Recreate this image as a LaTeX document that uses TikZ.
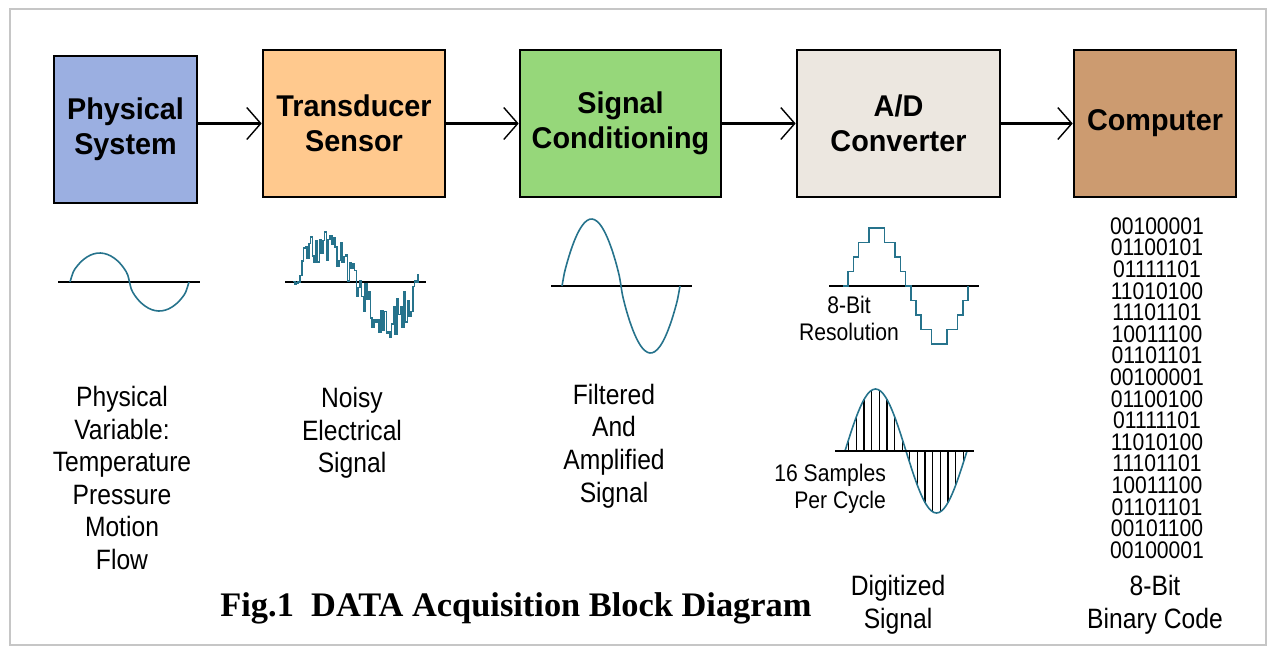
\documentclass[tikz,border=0pt]{standalone}
\usepackage{fontspec}
\setmainfont{Liberation Serif}
\newfontfamily\boxfont[FakeStretch=0.96]{Liberation Sans}
\newfontfamily\labfont[FakeStretch=0.88]{Liberation Sans}
\usetikzlibrary{arrows.meta, positioning}

\definecolor{physblue}{RGB}{155,175,225}
\definecolor{transorange}{RGB}{255,201,142}
\definecolor{condgreen}{RGB}{150,215,122}
\definecolor{adcgrey}{RGB}{236,231,224}
\definecolor{compbrown}{RGB}{204,155,112}
\definecolor{wavecol}{RGB}{38,115,140}

\begin{document}
\begin{tikzpicture}[
  x=0.5pt, y=-0.5pt,
  block/.style={draw, line width=1.3pt, minimum height=73.5pt, align=center,
    font=\boxfont\bfseries\fontsize{15}{17.5}\selectfont},
  lab/.style={align=center, font=\labfont\fontsize{14}{16.3}\selectfont},
  smalllab/.style={font=\labfont\fontsize{12}{13.5}\selectfont},
  flow/.style={line width=1.2pt, -{Straight Barb[length=7pt, width=16pt, line width=0.7pt]}},
  axis/.style={line width=1pt},
  wave/.style={draw=wavecol, line width=0.8pt},
  sample/.style={line width=0.6pt}
]
\useasboundingbox (0,0) rectangle (1275,650);
\draw[gray!45, line width=1pt] (10,9) rectangle (1266,645);

% blocks
\node[block, fill=physblue, minimum width=71.5pt] (phys) at (125.5,129.5) {Physical\\System};
\node[block, fill=transorange, minimum width=91pt, right=31.7pt of phys, yshift=3pt] (trans) {Transducer\\Sensor};
\node[block, fill=condgreen, minimum width=100.5pt, right=36.2pt of trans] (cond) {Signal\\Conditioning};
\node[block, fill=adcgrey, minimum width=101.5pt, right=36.7pt of cond] (adc) {A/D\\Converter};
\node[block, fill=compbrown, minimum width=81pt, right=35.7pt of adc] (comp) {Computer};

\draw[flow] (phys.east |- trans.west) -- (trans.west);
\draw[flow] (trans.east) -- (cond.west);
\draw[flow] (cond.east) -- (adc.west);
\draw[flow] (adc.east) -- (comp.west);

% signals
\draw[axis] (58,282) -- (200,282);
\draw[wave] plot[smooth, domain=0:360, samples=36]
  ({70+\x/360*119}, {282-29*sign(sin(\x))*(abs(sin(\x))+0.0001)^0.6});

\pgfmathsetseed{11}
\draw[axis] (285,282) -- (426,282);
\draw[wave, const plot] plot[domain=0:360, samples=72]
  ({293+\x/360*125}, {282-38*sin(\x)-19*rand});

\draw[axis] (551,286) -- (692,286);
\draw[wave] plot[smooth, domain=0:360, samples=48]
  ({562+\x/360*118}, {286-67*sign(sin(\x))*(abs(sin(\x))+0.0001)^0.8});

\draw[axis] (829,286) -- (979,286);
\draw[wave, const plot] plot[domain=0:360, samples=25]
  ({843+\x/360*125}, {286-14.5*round(4*sin(\x))});

\foreach \i in {0,...,15}
  \draw[sample] ({845+(\i+0.5)/16*122},451) -- ({845+(\i+0.5)/16*122},{451-62*sin((\i+0.5)*22.5)});
\draw[wave] plot[smooth, domain=0:360, samples=49] ({845+\x/360*122}, {451-62*sin(\x)});
\draw[axis] (835,451) -- (974,451);

% labels
\node[lab] (physvar) at (122,478) {Physical\\Variable:\\Temperature\\Pressure\\Motion\\Flow};
\node[lab] (noisy) at (352,433) {Noisy\\Electrical\\Signal};
\node[lab] (filt) at (614,446) {Filtered\\And\\Amplified\\Signal};
\node[smalllab, align=center] (res) at (849,318) {8-Bit\\Resolution};
\node[smalllab, align=right, anchor=east] (samp) at (893,489) {16 Samples\\Per Cycle};
\node[lab] (digit) at (898,605) {Digitized\\Signal};
\node[lab] (bincode) at (1155,605) {8-Bit\\Binary Code};
\node[align=center, font=\labfont\fontsize{12}{10.8}\selectfont] (bits) at (1157,388)
  {00100001\\01100101\\01111101\\11010100\\11101101\\10011100\\01101101\\00100001\\
   01100100\\01111101\\11010100\\11101101\\10011100\\01101101\\00101100\\00100001};
\node[font=\bfseries\fontsize{17.2}{20}\selectfont] (title) at (516,608) {Fig.1\ \ DATA Acquisition Block Diagram};
\end{tikzpicture}
\end{document}
